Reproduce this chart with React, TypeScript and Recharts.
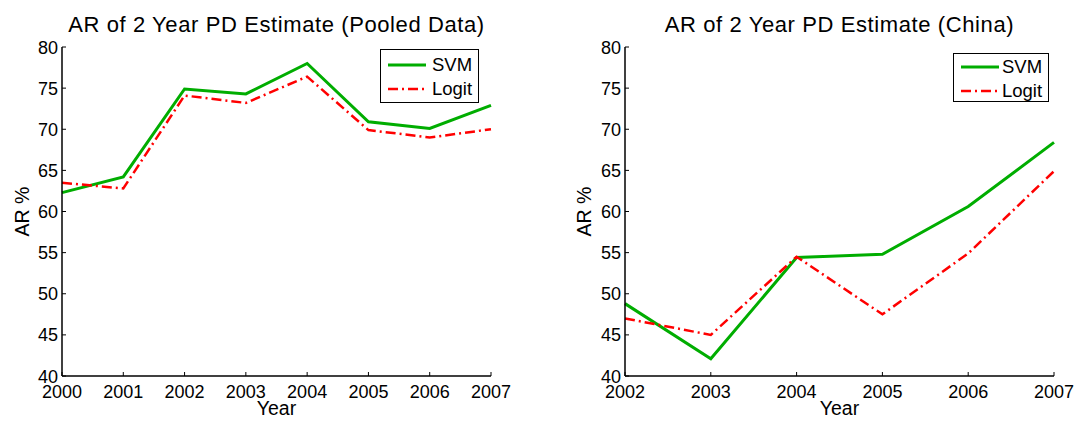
import { Legend, Line, LineChart, XAxis, YAxis } from "recharts";

const pooledYears = [2000, 2001, 2002, 2003, 2004, 2005, 2006, 2007];
const svmPooled = [62.3, 64.2, 74.9, 74.3, 78.0, 70.9, 70.1, 72.9];
const logitPooled = [63.5, 62.8, 74.1, 73.2, 76.4, 69.9, 69.0, 70.0];

const chinaYears = [2002, 2003, 2004, 2005, 2006, 2007];
const svmChina = [48.8, 42.1, 54.4, 54.8, 60.6, 68.4];
const logitChina = [47.0, 45.0, 54.5, 47.5, 54.9, 64.9];

const arTicks = [40, 45, 50, 55, 60, 65, 70, 75, 80];
const legendOrder = ["SVM", "Logit"];

const pooledData = pooledYears.map((year, i) => ({ year, svm: svmPooled[i], logit: logitPooled[i] }));
const chinaData = chinaYears.map((year, i) => ({ year, svm: svmChina[i], logit: logitChina[i] }));

const FONT = "'Liberation Sans', Arial, Helvetica, sans-serif";
const TICK = 4;
const SVM_GREEN = "#00ad00";
const LOGIT_RED = "#ff0000";

// MATLAB-style ticks: marks point inward, labels sit outside the box
function BottomTick({ x, y, payload }: any) {
  return (
    <g>
      <line x1={x} y1={y} x2={x} y2={y - TICK} stroke="#000" />
      <text x={x} y={y + 22} textAnchor="middle" fontSize={18} fill="#000" fontFamily={FONT}>
        {payload.value}
      </text>
    </g>
  );
}

function LeftTick({ x, y, payload }: any) {
  return (
    <g>
      <line x1={x} y1={y} x2={x + TICK} y2={y} stroke="#000" />
      <text x={x - 4} y={y + 6.5} textAnchor="end" fontSize={18} fill="#000" fontFamily={FONT}>
        {payload.value}
      </text>
    </g>
  );
}

function TopTick({ x, y }: any) {
  return <line x1={x} y1={y} x2={x} y2={y + TICK} stroke="#000" />;
}

function RightTick({ x, y }: any) {
  return <line x1={x - TICK} y1={y} x2={x} y2={y} stroke="#000" />;
}

const yearLabel = ({ viewBox }: any) => (
  <text
    x={viewBox.x + viewBox.width / 2}
    y={viewBox.y + viewBox.height - 7}
    textAnchor="middle"
    fontSize={19.5}
    fill="#000"
    fontFamily={FONT}
  >
    Year
  </text>
);

const arLabel = (offset: number) => ({ viewBox }: any) => {
  const x = viewBox.x + offset;
  const y = viewBox.y + viewBox.height / 2;
  return (
    <text
      x={x}
      y={y}
      transform={`rotate(-90, ${x}, ${y})`}
      textAnchor="middle"
      dominantBaseline="central"
      fontSize={19.5}
      fill="#000"
      fontFamily={FONT}
    >
      AR %
    </text>
  );
};

function makeLegend(width: number, height: number, padTop: number, textX: number) {
  return ({ payload }: any) => {
    const items = [...(payload || [])].sort(
      (a: any, b: any) => legendOrder.indexOf(a.value) - legendOrder.indexOf(b.value)
    );
    return (
      <div
        style={{
          width,
          height,
          boxSizing: "border-box",
          border: "1.5px solid #000",
          background: "#fff",
          paddingTop: padTop,
          fontFamily: FONT,
          fontSize: 18.5,
          color: "#000",
        }}
      >
        {items.map((entry: any) => (
          <div key={entry.value} style={{ position: "relative", height: 24 }}>
            <svg width={40} height={24} style={{ position: "absolute", left: 6, top: 0 }}>
              <line
                x1={1}
                y1={12}
                x2={39}
                y2={12}
                stroke={entry.color}
                strokeWidth={entry.payload?.strokeWidth ?? 2}
                strokeDasharray={entry.payload?.strokeDasharray}
              />
            </svg>
            <span style={{ position: "absolute", left: textX, top: 12, transform: "translateY(-50%)", lineHeight: 1 }}>
              {entry.value}
            </span>
          </div>
        ))}
      </div>
    );
  };
}

type PanelProps = {
  title: string;
  data: { year: number; svm: number; logit: number }[];
  years: number[];
  width: number;
  yAxisWidth: number;
  rightMargin: number;
  labelOffset: number;
  legendPos: { left: number; top: number; width: number; height: number; padTop: number; textX: number };
};

function Panel({ title, data, years, width, yAxisWidth, rightMargin, labelOffset, legendPos }: PanelProps) {
  const domain = [years[0], years[years.length - 1]];
  const plotCenter = (yAxisWidth + width - rightMargin) / 2;
  return (
    <div style={{ position: "relative", width, height: 422 }}>
      <svg width={width} height={40} style={{ position: "absolute", left: 0, top: 0 }}>
        <text x={plotCenter} y={32} textAnchor="middle" fontSize={22} letterSpacing={0.6} fill="#000" fontFamily={FONT}>
          {title}
        </text>
      </svg>
      <LineChart width={width} height={422} data={data} margin={{ top: 47, right: rightMargin, bottom: 0, left: 0 }}>
        <XAxis
          dataKey="year"
          type="number"
          domain={domain}
          ticks={years}
          interval={0}
          height={46}
          tickSize={0}
          tickMargin={0}
          tickLine={false}
          axisLine={{ stroke: "#000", strokeWidth: 1.5 }}
          tick={<BottomTick />}
          label={{ content: yearLabel }}
        />
        <XAxis
          xAxisId="top"
          orientation="top"
          dataKey="year"
          type="number"
          domain={domain}
          ticks={years}
          interval={0}
          height={0}
          tickSize={0}
          tickMargin={0}
          tickLine={false}
          axisLine={{ stroke: "#000", strokeWidth: 1.5 }}
          tick={<TopTick />}
        />
        <YAxis
          type="number"
          domain={[40, 80]}
          ticks={arTicks}
          interval={0}
          width={yAxisWidth}
          tickSize={0}
          tickMargin={0}
          tickLine={false}
          axisLine={{ stroke: "#000", strokeWidth: 1.5 }}
          tick={<LeftTick />}
          label={{ content: arLabel(labelOffset) }}
        />
        <YAxis
          yAxisId="right"
          orientation="right"
          type="number"
          domain={[40, 80]}
          ticks={arTicks}
          interval={0}
          width={0}
          tickSize={0}
          tickMargin={0}
          tickLine={false}
          axisLine={{ stroke: "#000", strokeWidth: 1.5 }}
          tick={<RightTick />}
        />
        <Legend
          layout="vertical"
          align="center"
          verticalAlign="middle"
          content={makeLegend(legendPos.width, legendPos.height, legendPos.padTop, legendPos.textX)}
          wrapperStyle={{ left: legendPos.left, top: legendPos.top, width: legendPos.width, height: legendPos.height }}
        />
        <Line type="linear" dataKey="svm" name="SVM" stroke={SVM_GREEN} strokeWidth={3} dot={false} isAnimationActive={false} />
        <Line
          type="linear"
          dataKey="logit"
          name="Logit"
          stroke={LOGIT_RED}
          strokeWidth={2.5}
          strokeDasharray="10 4 2 4"
          dot={false}
          isAnimationActive={false}
        />
      </LineChart>
    </div>
  );
}

export default function App() {
  return (
    <div style={{ position: "absolute", left: 0, top: 0, width: 1077, height: 422, background: "#fff" }}>
      <div style={{ position: "absolute", left: 0, top: 0 }}>
        <Panel
          title="AR of 2 Year PD Estimate (Pooled Data)"
          data={pooledData}
          years={pooledYears}
          width={540}
          yAxisWidth={62}
          rightMargin={49}
          labelOffset={21.5}
          legendPos={{ left: 380, top: 49, width: 99, height: 54, padTop: 3, textX: 51 }}
        />
      </div>
      <div style={{ position: "absolute", left: 540, top: 0 }}>
        <Panel
          title="AR of 2 Year PD Estimate (China)"
          data={chinaData}
          years={chinaYears}
          width={537}
          yAxisWidth={85}
          rightMargin={23}
          labelOffset={43.5}
          legendPos={{ left: 413, top: 53, width: 96, height: 49, padTop: 1, textX: 48 }}
        />
      </div>
    </div>
  );
}
